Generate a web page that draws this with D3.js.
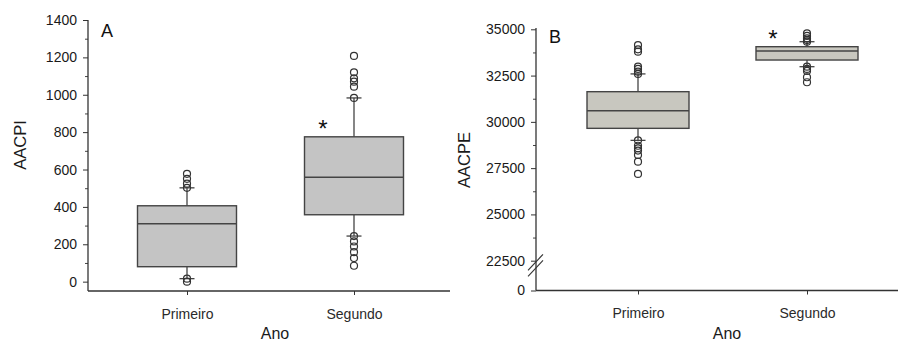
<!DOCTYPE html>
<html>
<head>
<meta charset="utf-8">
<script src="https://cdn.jsdelivr.net/npm/d3@7"></script>
<style>
    body { margin: 0; background: #fff; }
    svg { display: block; font-family: Arial, "Liberation Sans", sans-serif; }
</style>
</head>
<body>
<div id="chart"></div>
<script>
// categories on the x axis (both panels)
const categories = ['Primeiro', 'Segundo'];

// Panel A - AACPI
const aacpiQ1 = [80, 358];
const aacpiMedian = [310, 559];
const aacpiQ3 = [406, 775];
const aacpiWhiskerLow = [16, 244];
const aacpiWhiskerHigh = [502, 983];
const aacpiOutliers = [
    [0, 16, 502, 524, 550, 577],
    [85, 126, 158, 188, 215, 244, 983, 1043, 1070, 1088, 1120, 1208]
];
const aacpiTicks = [0, 200, 400, 600, 800, 1000, 1200, 1400];
const aacpiMinorTicks = [100, 300, 500, 700, 900, 1100, 1300];

// Panel B - AACPE
const aacpeQ1 = [29650, 33340];
const aacpeMedian = [30600, 33830];
const aacpeQ3 = [31630, 34060];
const aacpeWhiskerLow = [29000, 32980];
const aacpeWhiskerHigh = [32590, 34330];
const aacpeOutliers = [
    [27190, 27850, 28210, 28450, 28570, 28710, 29000, 32590, 32710, 32860, 32980, 33790, 33920, 34150],
    [32140, 32410, 32750, 32860, 32980, 34330, 34420, 34510, 34640, 34780]
];
const aacpeTicks = [0, 22500, 25000, 27500, 30000, 32500, 35000];
const aacpeMinorTicks = [23750, 26250, 28750, 31250, 33750];

const width = 898, height = 341;
const svg = d3.select('#chart').append('svg')
    .attr('width', width)
    .attr('height', height);

function drawPanel(cfg) {
    const g = svg.append('g');

    const x = d3.scalePoint()
        .domain(categories)
        .range(cfg.centers);

    const y = d3.scaleLinear()
        .domain(cfg.domain)
        .range(cfg.yRange);

    // y axis (major + minor ticks)
    const yAxis = g.append('g')
        .attr('transform', `translate(${cfg.left}, 0)`)
        .call(d3.axisLeft(y)
            .tickValues(cfg.ticks)
            .tickFormat(d3.format('d'))
            .tickSize(5)
            .tickSizeOuter(0)
            .tickPadding(6));
    yAxis.select('.domain').remove();
    yAxis.selectAll('line').attr('stroke', '#333');
    yAxis.selectAll('text')
        .style('font-size', '14px')
        .style('fill', '#1a1a1a');

    g.append('g')
        .attr('transform', `translate(${cfg.left}, 0)`)
        .call(d3.axisLeft(y).tickValues(cfg.minorTicks).tickSize(3).tickFormat(''))
        .call(a => a.select('.domain').remove())
        .selectAll('line').attr('stroke', '#444');

    g.append('line')
        .attr('x1', cfg.left).attr('x2', cfg.left)
        .attr('y1', cfg.top).attr('y2', cfg.bottom)
        .attr('stroke', '#333').attr('stroke-width', 1.3);

    // x axis
    const xAxis = g.append('g')
        .attr('transform', `translate(0, ${cfg.bottom})`)
        .call(d3.axisBottom(x).tickSize(4).tickSizeOuter(0).tickPadding(14));
    xAxis.select('.domain').remove();
    xAxis.selectAll('line').attr('stroke', '#333');
    xAxis.selectAll('text')
        .style('font-size', '14px')
        .style('fill', '#2a2a2a');

    g.append('line')
        .attr('x1', cfg.left).attr('x2', cfg.right)
        .attr('y1', cfg.bottom).attr('y2', cfg.bottom)
        .attr('stroke', '#333').attr('stroke-width', 1.3);

    // boxes
    const rows = categories.map((c, i) => ({
        cat: c,
        q1: cfg.q1[i], med: cfg.median[i], q3: cfg.q3[i],
        lo: cfg.low[i], hi: cfg.high[i], out: cfg.outliers[i]
    }));
    const bw = cfg.boxWidth;

    const box = g.selectAll('g.box')
        .data(rows)
        .enter().append('g')
        .attr('class', 'box');

    box.append('line')
        .attr('x1', d => x(d.cat)).attr('x2', d => x(d.cat))
        .attr('y1', d => y(d.hi)).attr('y2', d => y(d.q3))
        .attr('stroke', '#444').attr('stroke-width', 1.3);
    box.append('line')
        .attr('x1', d => x(d.cat)).attr('x2', d => x(d.cat))
        .attr('y1', d => y(d.q1)).attr('y2', d => y(d.lo))
        .attr('stroke', '#444').attr('stroke-width', 1.3);
    ['hi', 'lo'].forEach(k => {
        box.append('line')
            .attr('x1', d => x(d.cat) - 7.5).attr('x2', d => x(d.cat) + 7.5)
            .attr('y1', d => y(d[k])).attr('y2', d => y(d[k]))
            .attr('stroke', '#444').attr('stroke-width', 1.3);
    });

    box.append('rect')
        .attr('x', d => x(d.cat) - bw / 2)
        .attr('width', bw)
        .attr('y', d => y(d.q3))
        .attr('height', d => y(d.q1) - y(d.q3))
        .attr('fill', cfg.fill)
        .attr('stroke', '#444')
        .attr('stroke-width', 1.4);

    box.append('line')
        .attr('x1', d => x(d.cat) - bw / 2).attr('x2', d => x(d.cat) + bw / 2)
        .attr('y1', d => y(d.med)).attr('y2', d => y(d.med))
        .attr('stroke', '#444').attr('stroke-width', 1.5);

    box.selectAll('circle')
        .data(d => d.out.map(v => ({ cat: d.cat, v })))
        .enter().append('circle')
        .attr('cx', d => x(d.cat))
        .attr('cy', d => y(d.v))
        .attr('r', 3.5)
        .attr('fill', 'none')
        .attr('stroke', '#333')
        .attr('stroke-width', 1.2);

    // significance mark
    g.append('text')
        .attr('x', cfg.star[0]).attr('y', cfg.star[1])
        .attr('text-anchor', 'middle')
        .style('font-size', '24px')
        .style('fill', '#111')
        .text('*');

    // panel letter
    g.append('text')
        .attr('x', cfg.letterPos[0]).attr('y', cfg.letterPos[1])
        .style('font-size', '18px')
        .style('fill', '#111')
        .text(cfg.letter);

    // axis titles
    g.append('text')
        .attr('transform', `translate(${cfg.yLabelPos[0]}, ${cfg.yLabelPos[1]}) rotate(-90)`)
        .attr('text-anchor', 'middle')
        .style('font-size', '16.5px')
        .style('fill', '#1a1a1a')
        .text(cfg.yLabel);

    g.append('text')
        .attr('x', cfg.xLabelX).attr('y', 339)
        .attr('text-anchor', 'middle')
        .style('font-size', '16px')
        .style('fill', '#1a1a1a')
        .text('Ano');

    if (cfg.breakAt) {
        const yb = y(cfg.breakAt);
        [0, 6].forEach(off => {
            g.append('line')
                .attr('x1', cfg.left - 8).attr('x2', cfg.left + 7)
                .attr('y1', yb + 8 + off).attr('y2', yb - 8 + off)
                .attr('stroke', '#333').attr('stroke-width', 1.1);
        });
    }
}

drawPanel({
    left: 88, right: 450, top: 20, bottom: 291,
    centers: [187, 354], boxWidth: 99,
    domain: [-50, 1400], yRange: [291, 20],
    ticks: aacpiTicks, minorTicks: aacpiMinorTicks,
    q1: aacpiQ1, median: aacpiMedian, q3: aacpiQ3,
    low: aacpiWhiskerLow, high: aacpiWhiskerHigh, outliers: aacpiOutliers,
    fill: '#c4c4c4',
    star: [323, 137], letter: 'A', letterPos: [101, 37],
    yLabel: 'AACPI', yLabelPos: [26, 145], xLabelX: 275
});

drawPanel({
    left: 536, right: 898, top: 28, bottom: 290.5,
    centers: [638, 807], boxWidth: 102,
    domain: [0, 22500, 35000], yRange: [290.5, 260.7, 29.3],
    ticks: aacpeTicks, minorTicks: aacpeMinorTicks,
    q1: aacpeQ1, median: aacpeMedian, q3: aacpeQ3,
    low: aacpeWhiskerLow, high: aacpeWhiskerHigh, outliers: aacpeOutliers,
    fill: '#c8c7bf',
    star: [773, 47], letter: 'B', letterPos: [549, 43],
    yLabel: 'AACPE', yLabelPos: [470, 160], xLabelX: 727,
    breakAt: 21300
});
</script>
</body>
</html>
